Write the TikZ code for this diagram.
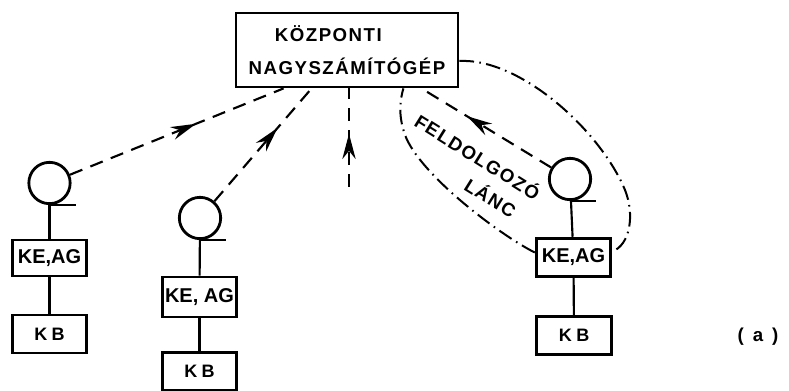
\documentclass[tikz,border=0pt]{standalone}
\usepackage{fontspec}
\setmainfont{Liberation Sans}
\usetikzlibrary{arrows.meta,decorations.markings,calc}

\tikzset{every picture/.style={line width=0.75pt}}
\tikzset{
  box/.style={draw, line width=2.1pt, inner sep=0pt, minimum width=56pt},
  term/.style={draw, circle, line width=2.1pt, minimum size=31pt, inner sep=0pt},
  tail/.style={line width=2.1pt},
  wire/.style={line width=1.6pt},
  link/.style={line width=1.6pt, dash pattern=on 10pt off 6.5pt},
  chain/.style={line width=1.5pt, dash pattern=on 11pt off 4pt on 1.2pt off 4pt},
  midarrow/.style={postaction={decorate, decoration={markings,
      mark=at position #1 with {\arrow[solid]{Stealth[length=19pt,width=10pt]}}}}},
  agfont/.style={font=\fontsize{15}{18}\selectfont\bfseries},
  kbfont/.style={font=\fontsize{13.5}{16}\selectfont\bfseries\addfontfeatures{LetterSpace=25}},
  lblfont/.style={font=\fontsize{14}{25}\selectfont\bfseries\addfontfeatures{LetterSpace=8}},
}

\begin{document}
\begin{tikzpicture}[x=0.75pt,y=0.75pt,yscale=-1,xscale=1]
\path [use as bounding box] (0,0) rectangle (789,391);

% Central computer
\node [box, lblfont, minimum width=166.5pt, minimum height=55.5pt, align=center] (kozp) at (347,50) {KÖZPONTI\hspace*{28pt}\\NAGYSZÁMÍTÓGÉP};

% Terminal 1
\node [term] (t1) at (49.5,183) {};
\node [box, agfont, minimum height=27pt] (ka1) at (49.5,258) {KE,AG};
\node [box, kbfont, minimum height=28.5pt] (kb1) at (49.5,334) {KB};
\draw [tail] (t1.south) -- ++(26,0) ;
\draw [wire] (t1) -- (ka1) ;
\draw [wire] (ka1) -- (kb1) ;

% Terminal 2
\node [term] (t2) at (200,218) {};
\node [box, agfont, minimum height=30pt] (ka2) at (199.5,297) {KE, AG};
\node [box, kbfont, minimum height=28pt] (kb2) at (199.5,371.5) {KB};
\draw [tail] (t2.south) -- ++(26,0) ;
\draw [wire] (t2) -- (ka2) ;
\draw [wire] (ka2) -- (kb2) ;

% Terminal 3
\node [term] (t3) at (570,179) {};
\node [box, agfont, minimum height=29pt] (ka3) at (573.5,257.5) {KE,AG};
\node [box, kbfont, minimum height=28pt] (kb3) at (574,335.5) {KB};
\draw [tail] (t3.south) -- ++(26,0) ;
\draw [wire] (t3) -- (ka3) ;
\draw [wire] (ka3) -- (kb3) ;

% Links to the central computer
\coordinate (vend) at (349,187);
\draw [link, midarrow=0.59] (t1) -- ($(kozp.south west)+(49,0)$) ;
\draw [link, midarrow=0.65] (t2) -- ($(kozp.south west)+(77,0)$) ;
\draw [link, midarrow=0.54] (vend) -- (vend |- kozp.south) ;
\draw [link, midarrow=0.65] (t3) -- ($(kozp.south east)+(-38,0)$) ;

% Processing chain loop
\draw [chain] ($(kozp.east)+(0,11)$) .. controls (520,58) and (600,130) .. (625,190) .. controls (635,215) and (630,245) .. ($(ka3.east)+(0,-6)$) ;
\draw [chain] ($(ka3.west)+(0,-5)$) .. controls (500,235) and (420,175) .. (405,135) .. controls (398,115) and (400,100) .. ($(kozp.south east)+(-56,0)$) ;

% Text Node
\node [lblfont, rotate=-32] (feld) at (478,156) {FELDOLGOZÓ};
% Text Node
\node [lblfont, rotate=-32] (lanc) at (491,197) {LÁNC};
% Text Node
\node [font=\fontsize{14}{16}\selectfont\bfseries\addfontfeatures{LetterSpace=20}] (cap) at (758,337) {( a )};

\end{tikzpicture}
\end{document}
